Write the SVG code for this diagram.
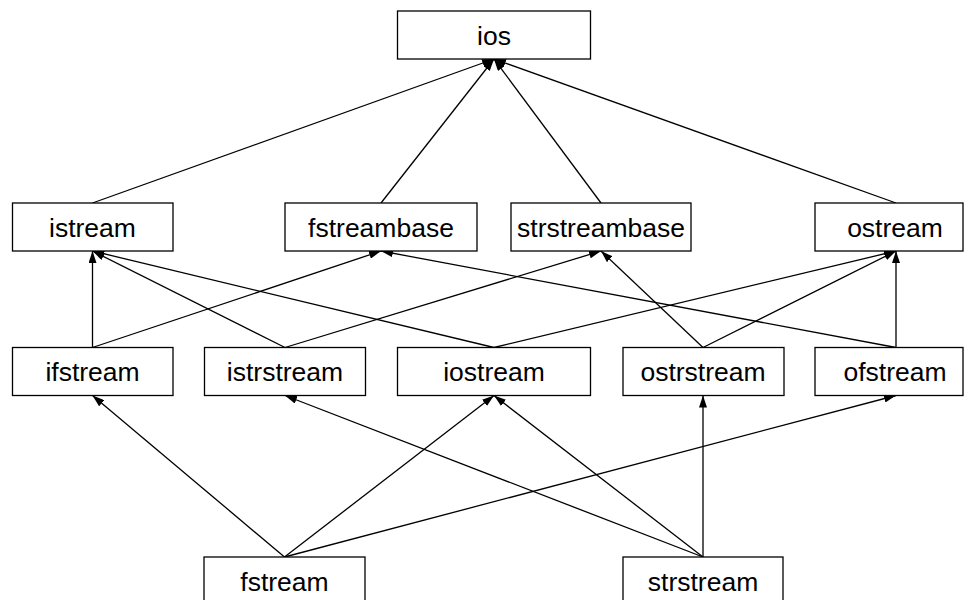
<svg xmlns="http://www.w3.org/2000/svg" width="964" height="600" viewBox="0 0 964 600">
<style>
.box{fill:#fff;stroke:#000;stroke-width:1.3}
.lbl{font-family:"Liberation Sans",Arial,sans-serif;font-size:26.5px;text-anchor:middle;fill:#000}
.edge{stroke:#000;stroke-width:1.3;fill:none;marker-end:url(#ah)}
</style>
<defs>
<marker id="ah" viewBox="0 0 12 8" refX="12" refY="4" markerWidth="12" markerHeight="8" orient="auto" markerUnits="userSpaceOnUse">
<path d="M0,0 L12,4 L0,8 z" fill="#000"/>
</marker>
</defs>
<rect width="964" height="600" fill="#fff"/>
<g id="connectors">
<line class="edge" x1="92.5" y1="203" x2="494" y2="59"/>
<line class="edge" x1="381" y1="203" x2="494" y2="59"/>
<line class="edge" x1="601" y1="203" x2="494" y2="59"/>
<line class="edge" x1="896" y1="203" x2="494" y2="59"/>
<line class="edge" x1="92.5" y1="347.5" x2="92.5" y2="251"/>
<line class="edge" x1="92.5" y1="347.5" x2="381" y2="251"/>
<line class="edge" x1="285" y1="347.5" x2="92.5" y2="251"/>
<line class="edge" x1="285" y1="347.5" x2="601" y2="251"/>
<line class="edge" x1="494" y1="347.5" x2="92.5" y2="251"/>
<line class="edge" x1="494" y1="347.5" x2="896" y2="251"/>
<line class="edge" x1="703" y1="347.5" x2="601" y2="251"/>
<line class="edge" x1="703" y1="347.5" x2="896" y2="251"/>
<line class="edge" x1="896" y1="347.5" x2="896" y2="251"/>
<line class="edge" x1="896" y1="347.5" x2="381" y2="251"/>
<line class="edge" x1="284.5" y1="557" x2="92.5" y2="395.5"/>
<line class="edge" x1="284.5" y1="557" x2="494" y2="395.5"/>
<line class="edge" x1="284.5" y1="557" x2="896" y2="395.5"/>
<line class="edge" x1="703" y1="557" x2="285" y2="395.5"/>
<line class="edge" x1="703" y1="557" x2="494" y2="395.5"/>
<line class="edge" x1="703" y1="557" x2="703" y2="395.5"/>
</g>
<g id="ios"><rect class="box" x="397.5" y="11" width="193" height="48"/><text class="lbl" x="494" y="44.5">ios</text></g>
<g id="istream"><rect class="box" x="12.5" y="203" width="160.5" height="48"/><text class="lbl" x="92.5" y="236.5">istream</text></g>
<g id="fstreambase"><rect class="box" x="285" y="203" width="192" height="48"/><text class="lbl" x="381" y="236.5">fstreambase</text></g>
<g id="strstreambase"><rect class="box" x="511" y="203" width="180" height="48"/><text class="lbl" x="601" y="236.5">strstreambase</text></g>
<g id="ostream"><rect class="box" x="815" y="203" width="148" height="48"/><text class="lbl" x="895" y="236.5">ostream</text></g>
<g id="ifstream"><rect class="box" x="12.5" y="347.5" width="160.5" height="48"/><text class="lbl" x="92.5" y="381">ifstream</text></g>
<g id="istrstream"><rect class="box" x="204.5" y="347.5" width="161" height="48"/><text class="lbl" x="285" y="381">istrstream</text></g>
<g id="iostream"><rect class="box" x="397.5" y="347.5" width="193" height="48"/><text class="lbl" x="494" y="381">iostream</text></g>
<g id="ostrstream"><rect class="box" x="623" y="347.5" width="161" height="48"/><text class="lbl" x="703" y="381">ostrstream</text></g>
<g id="ofstream"><rect class="box" x="815" y="347.5" width="148" height="48"/><text class="lbl" x="895" y="381">ofstream</text></g>
<g id="fstream"><rect class="box" x="204" y="557" width="161" height="48"/><text class="lbl" x="284.5" y="590.5">fstream</text></g>
<g id="strstream"><rect class="box" x="623" y="557" width="160" height="48"/><text class="lbl" x="703" y="590.5">strstream</text></g>
</svg>
